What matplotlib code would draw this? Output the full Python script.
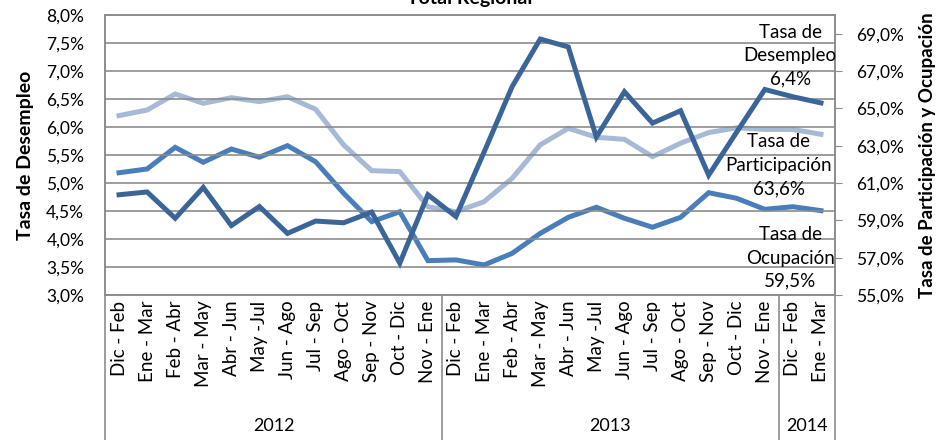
import numpy as np
import matplotlib.pyplot as plt
import matplotlib.transforms as mtransforms

plt.rcParams['font.family'] = ['Lato', 'DejaVu Sans']

# Data
periods = ['Dic - Feb', 'Ene - Mar', 'Feb - Abr', 'Mar - May', 'Abr - Jun', 'May -Jul',
           'Jun - Ago', 'Jul - Sep', 'Ago - Oct', 'Sep - Nov', 'Oct - Dic', 'Nov - Ene']
years = ['2012', '2013', '2014']
year_counts = [12, 12, 2]
labels = periods + periods + periods[:2]

desempleo = [4.79, 4.84, 4.37, 4.92, 4.24, 4.58, 4.10, 4.32, 4.29, 4.48, 3.57, 4.79,
             4.40, 5.55, 6.72, 7.57, 7.43, 5.82, 6.63, 6.07, 6.29, 5.14, 5.91, 6.67,
             6.54, 6.43]
participacion = [64.61, 64.91, 65.77, 65.27, 65.57, 65.36, 65.62, 64.95, 63.04, 61.66, 61.61, 59.73,
                 59.46, 60.00, 61.25, 63.04, 63.93, 63.45, 63.34, 62.41, 63.13, 63.70, 63.96, 63.87,
                 63.87, 63.61]
ocupacion = [61.55, 61.75, 62.91, 62.11, 62.82, 62.38, 63.00, 62.14, 60.45, 58.93, 59.46, 56.84,
             56.88, 56.61, 57.23, 58.30, 59.16, 59.70, 59.11, 58.63, 59.16, 60.48, 60.18, 59.59,
             59.73, 59.52]

c_des = '#3B6599'
c_ocu = '#4A7EBB'
c_par = '#A6B9D7'
grey = '#8C8C8C'

fig = plt.figure(figsize=(9.45, 4.4), dpi=100)
ax = fig.add_axes([105 / 945, 145 / 440, 730 / 945, 280 / 440])
ax2 = ax.twinx()

x = np.arange(len(labels))
ax.plot(x, desempleo, color=c_des, lw=3.6, solid_joinstyle='miter', zorder=5)
ax2.plot(x, participacion, color=c_par, lw=3.6, solid_joinstyle='miter')
ax2.plot(x, ocupacion, color=c_ocu, lw=3.6, solid_joinstyle='miter')

ax.set_zorder(ax2.get_zorder() + 1)
ax.patch.set_visible(False)

ax.set_xlim(-0.5, len(labels) - 0.5)
ax.set_ylim(3.0, 8.0)
ax.set_yticks(np.arange(3.0, 8.01, 0.5))
ax.set_yticklabels([f'{v:.1f}%'.replace('.', ',') for v in np.arange(3.0, 8.01, 0.5)])
ax.yaxis.grid(True, color=grey, lw=1.2)
ax.set_axisbelow(True)
ax.tick_params(axis='y', length=0, pad=15, labelsize=12.5)

ax2.set_ylim(55, 70)
ax2.set_yticks(np.arange(55, 69.1, 2))
ax2.set_yticklabels([f'{v:.1f}%'.replace('.', ',') for v in np.arange(55, 69.1, 2)])
ax2.tick_params(axis='y', length=5, color=grey, pad=10, labelsize=12.5)

ax.set_xticks(x)
ax.set_xticklabels(labels, rotation=90, fontsize=13.5)
ax.tick_params(axis='x', length=0, pad=4)

for a in (ax, ax2):
    for s in a.spines.values():
        s.set_color(grey)
        s.set_linewidth(1.2)

# group separators and year labels
trans = mtransforms.blended_transform_factory(ax.transData, ax.transAxes)
bounds = np.concatenate([[0], np.cumsum(year_counts)]) - 0.5
for b in bounds:
    ax.plot([b, b], [0, -0.53], color=grey, lw=1.2, transform=trans, clip_on=False)
for i, yr in enumerate(years):
    ax.text((bounds[i] + bounds[i + 1]) / 2, -0.468, yr, transform=trans,
            ha='center', va='center', fontsize=13)

ax.set_ylabel('Tasa de Desempleo', fontsize=14, fontweight='bold', labelpad=9)
ax2.set_ylabel('Tasa de Participación y Ocupación', fontsize=13.5, fontweight='bold', labelpad=11)

fig.text(0.497, 0.991, 'Total Regional', ha='center', va='baseline',
         fontsize=14, fontweight='bold')

# series labels
ax.text(23.9, 0.854, 'Tasa de\nDesempleo\n6,4%', transform=trans, ha='center', va='center',
        fontsize=13.5, linespacing=1.45)
ax.text(23.5, 0.464, 'Tasa de\nParticipación\n63,6%', transform=trans, ha='center', va='center',
        fontsize=13.5, linespacing=1.45)
ax.text(23.9, 0.132, 'Tasa de\nOcupación\n59,5%', transform=trans, ha='center', va='center',
        fontsize=13.5, linespacing=1.45)

fig.savefig('out.png', dpi=100)
